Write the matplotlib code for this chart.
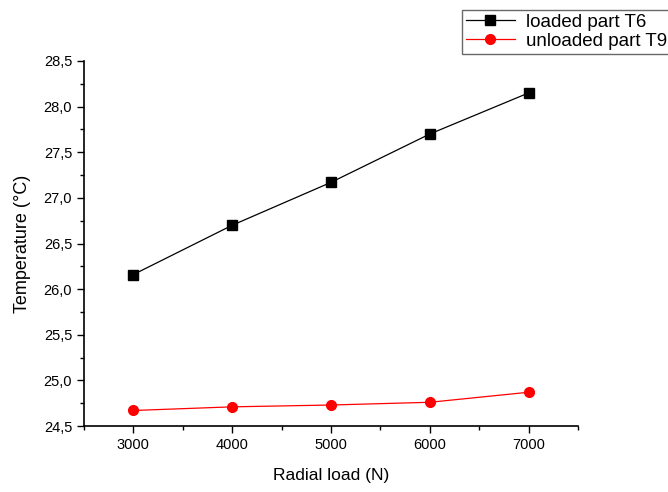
import numpy as np
import matplotlib
matplotlib.use("Agg")
import matplotlib.pyplot as plt
from matplotlib.ticker import MultipleLocator, FuncFormatter

plt.rcParams['font.family'] = ['Liberation Sans', 'DejaVu Sans']

radial_load = [3000, 4000, 5000, 6000, 7000]
loaded_t6 = [26.16, 26.70, 27.17, 27.70, 28.15]
unloaded_t9 = [24.67, 24.71, 24.73, 24.76, 24.87]

fig = plt.figure(figsize=(6.68, 4.92), dpi=100)
ax = fig.add_axes([84 / 668, 66 / 492, 494 / 668, 365 / 492])

ax.plot(radial_load, loaded_t6, color='black', lw=0.9, marker='s', ms=6.5,
        label='loaded part T6')
ax.plot(radial_load, unloaded_t9, color='red', lw=0.9, marker='o', ms=7,
        label='unloaded part T9')

ax.set_xlim(2500, 7500)
ax.set_ylim(24.5, 28.5)
ax.xaxis.set_major_locator(MultipleLocator(1000))
ax.xaxis.set_minor_locator(MultipleLocator(500))
ax.yaxis.set_major_locator(MultipleLocator(0.5))
ax.yaxis.set_minor_locator(MultipleLocator(0.25))
ax.yaxis.set_major_formatter(FuncFormatter(lambda v, p: f"{v:.1f}".replace('.', ',')))
ax.tick_params(which='major', direction='out', length=5, width=1, labelsize=10.5)
ax.tick_params(which='minor', direction='out', length=3, width=1)
ax.spines['top'].set_visible(False)
ax.spines['right'].set_visible(False)
for s in ('left', 'bottom'):
    ax.spines[s].set_linewidth(1.2)

ax.set_xlabel('Radial load (N)', fontsize=12.5, labelpad=12)
ax.set_ylabel('Temperature (°C)', fontsize=13, labelpad=9)

leg = fig.legend(loc='upper left', bbox_to_anchor=(462 / 668, 1 - 10 / 492),
                 fontsize=13.5, frameon=True, fancybox=False, edgecolor='#444444',
                 borderpad=0.2, handlelength=2.6, labelspacing=0.1,
                 handletextpad=0.6, borderaxespad=0)
leg.get_frame().set_linewidth(1.0)

fig.savefig('out.png', dpi=100)
